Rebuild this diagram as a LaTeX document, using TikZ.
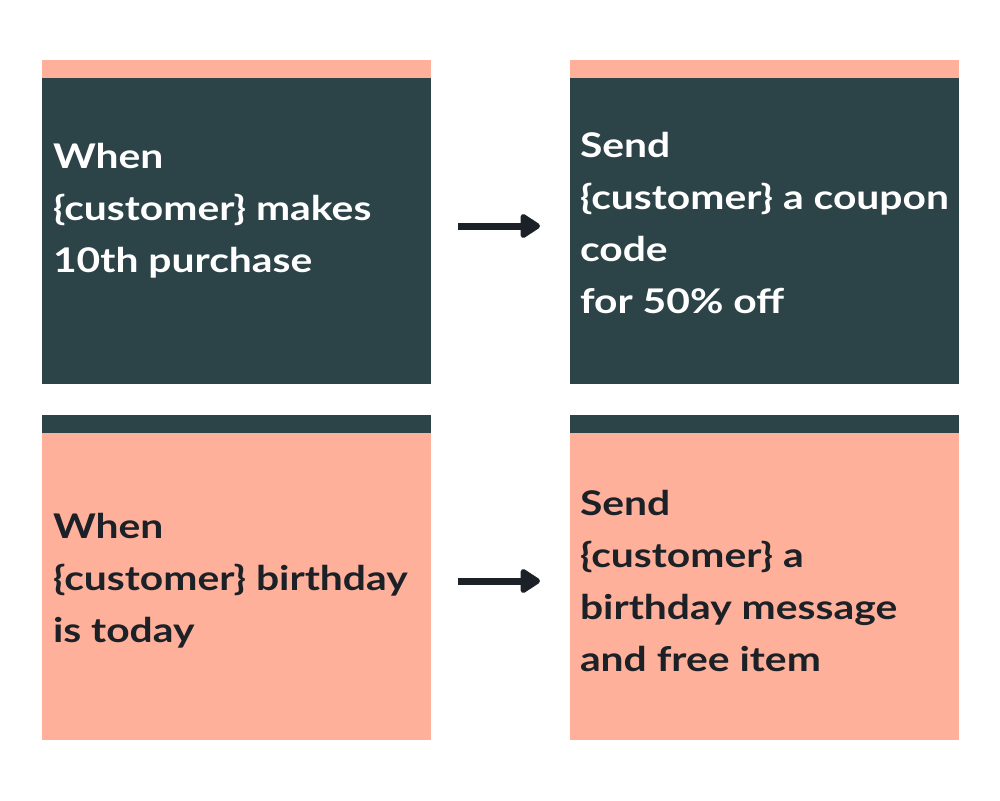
\documentclass[tikz,border=0pt]{standalone}
\usepackage{fontspec}
\setmainfont{Lato}[FakeStretch=1.2]
\usetikzlibrary{arrows.meta}
\definecolor{darkteal}{HTML}{2C4347}
\definecolor{salmon}{HTML}{FFB09A}
\definecolor{inkdark}{HTML}{1B2126}
\tikzset{
  card/.style={draw=none,inner sep=0pt,outer sep=0pt,minimum width=389pt,minimum height=307pt,anchor=north west},
  stripe/.style={draw=none,inner sep=0pt,outer sep=0pt,minimum width=389pt,minimum height=18pt,anchor=north west},
  label/.style={inner sep=0pt,outer sep=0pt,anchor=base west,align=left,font=\fontsize{34}{52}\selectfont\bfseries},
  flow/.style={draw=inkdark,line width=7pt,-{Triangle[width=27pt,length=22pt,round]},shorten <=27pt,shorten >=30pt}
}
\begin{document}
\begin{tikzpicture}[x=1pt,y=-1pt]
\useasboundingbox[fill=white] (0,0) rectangle (1000,800);
% top row
\node[stripe,fill=salmon] (s1) at (42,60) {};
\node[card,fill=darkteal,minimum height=306pt] (b1) at (42,78) {};
\node[stripe,fill=salmon] (s2) at (570,60) {};
\node[card,fill=darkteal,minimum height=306pt] (b2) at (570,78) {};
% bottom row
\node[stripe,fill=darkteal] (s3) at (42,415) {};
\node[card,fill=salmon] (b3) at (42,433) {};
\node[stripe,fill=darkteal] (s4) at (570,415) {};
\node[card,fill=salmon] (b4) at (570,433) {};
% texts (anchor = baseline of last line)
\node[label,text=white] (t1) at (53,272) {When\\\{customer\} makes\\10th purchase};
\node[label,text=white] (t2) at (580,313) {Send\\\{customer\} a coupon\\code\\for 50\% off};
\node[label,text=inkdark] (t3) at (53,642) {When\\\{customer\} birthday\\is today};
\node[label,text=inkdark] (t4) at (580,671) {Send\\\{customer\} a\\birthday message\\and free item};
% arrows
\coordinate (a1s) at (431,226);
\coordinate (a1e) at (570,226);
\coordinate (a2s) at (431,581);
\coordinate (a2e) at (570,581);
\draw[flow] (a1s) -- (a1e);
\draw[flow] (a2s) -- (a2e);
\end{tikzpicture}
\end{document}
